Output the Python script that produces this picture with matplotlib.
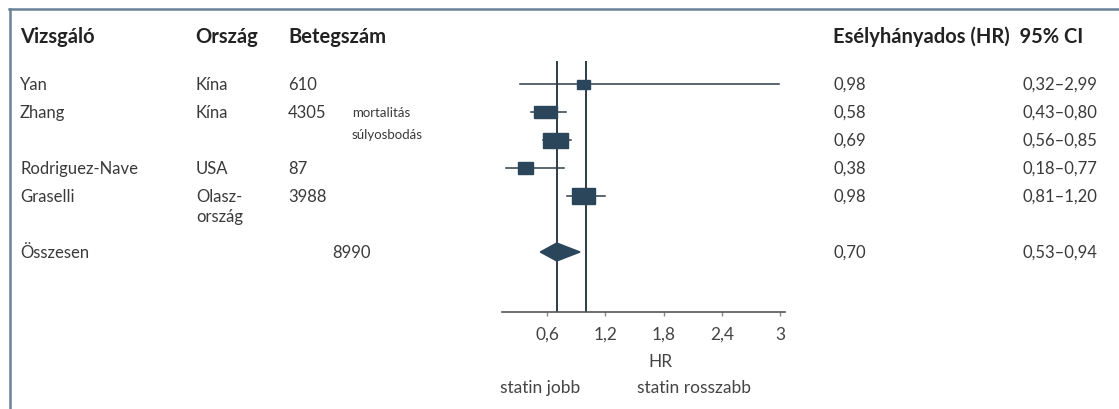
import matplotlib
matplotlib.use("Agg")
import matplotlib.pyplot as plt
import matplotlib.transforms as mtransforms
from matplotlib.patches import Rectangle, Polygon
from matplotlib.lines import Line2D

plt.rcParams['font.family'] = ['Lato', 'DejaVu Sans']

# table data
studies = ['Yan', 'Zhang', '', 'Rodriguez-Nave', 'Graselli', 'Összesen']
countries = ['Kína', 'Kína', '', 'USA', 'Olasz-\nország', '']
patients = ['610', '4305', '', '87', '3988', '8990']
outcomes = ['', 'mortalitás', 'súlyosbodás', '', '', '']
hr = [0.98, 0.58, 0.69, 0.38, 0.98, 0.70]
ci_low = [0.32, 0.43, 0.56, 0.18, 0.81, 0.53]
ci_high = [2.99, 0.80, 0.85, 0.77, 1.20, 0.94]
rows = [0, 1, 2, 3, 4, 6]
ref_lines = [0.70, 1.0]
xticks = [0.6, 1.2, 1.8, 2.4, 3]
xtick_labels = ['0,6', '1,2', '1,8', '2,4', '3']

# box sizes in pixels (w, h) for the study markers
box_px = [(13, 9), (23, 12), (25, 15), (15, 12), (23, 16)]

W, H = 1119, 410
text_col = '#3a3a3a'
head_col = '#222222'
mark_col = '#2b465b'
line_col = '#2f3c48'

fig = plt.figure(figsize=(W / 100, H / 100), dpi=100)
ax = fig.add_axes([502 / W, 1 - 313 / H, (785 - 502) / W, (313 - 62) / H])

x0, x1 = 0.136, 3.05
y_top, y_bot = (62 - 85) / 28, (313 - 85) / 28
ax.set_xlim(x0, x1)
ax.set_ylim(y_bot, y_top)
px_x = (x1 - x0) / (785 - 502)   # HR units per pixel
px_y = (y_bot - y_top) / (313 - 62)  # row units per pixel

for v in ref_lines:
    ax.axvline(v, color=line_col, lw=1.4, zorder=1)

# studies (all but pooled)
for i in range(len(rows) - 1):
    y = rows[i]
    ax.plot([ci_low[i], ci_high[i]], [y, y], color=line_col, lw=1.1, zorder=2)
    bw, bh = box_px[i][0] * px_x, box_px[i][1] * px_y
    ax.add_patch(Rectangle((hr[i] - bw / 2, y - bh / 2), bw, bh,
                           color=mark_col, zorder=3))

# pooled diamond
yp = rows[-1]
dh = 9 * px_y
ax.add_patch(Polygon([[ci_low[-1], yp], [hr[-1], yp - dh],
                      [ci_high[-1], yp], [hr[-1], yp + dh]],
                     closed=True, color=mark_col, zorder=3))

for s in ['top', 'right', 'left']:
    ax.spines[s].set_visible(False)
ax.spines['bottom'].set_color('#555555')
ax.spines['bottom'].set_linewidth(1.2)
ax.set_yticks([])
ax.set_xticks(xticks)
ax.set_xticklabels(xtick_labels)
ax.tick_params(axis='x', length=3, width=1, color='#888888', pad=7,
               labelsize=12.5, labelcolor='#444444')
ax.patch.set_alpha(0)

# row texts: x in figure pixels, y in row units
tr = mtransforms.blended_transform_factory(fig.transFigure, ax.transData)


def put(xpx, y, s, **kw):
    ax.text(xpx / W, y, s, transform=tr, va='center', clip_on=False, **kw)


for i, y in enumerate(rows):
    put(20, y, studies[i], fontsize=12, color=text_col)
    for k, part in enumerate(countries[i].split('\n')):
        put(196, y + k * 20 * px_y, part, fontsize=12, color=text_col)
    put(332 if studies[i] == 'Összesen' else 288, y, patients[i],
        fontsize=12, color=text_col)
    put(352, y - (6 * px_y if i == 2 else 0), outcomes[i],
        fontsize=9.5, color=text_col)
    put(833, y, f'{hr[i]:.2f}'.replace('.', ','), fontsize=12, color=text_col)
    ci = f'{ci_low[i]:.2f}–{ci_high[i]:.2f}'.replace('.', ',')
    put(1097, y, ci, fontsize=12, color=text_col, ha='right')

# header
hy = 1 - 37 / H
for xpx, s in [(20, 'Vizsgáló'), (195, 'Ország'), (288, 'Betegszám'),
               (833, 'Esélyhányados (HR)  95% CI')]:
    fig.text(xpx / W, hy, s, fontsize=14.5, fontweight='bold',
             color=head_col, va='center')

# axis captions
fig.text(660 / W, 1 - 362 / H, 'HR', fontsize=12.5, color='#444444',
         ha='center', va='center')
fig.text(540 / W, 1 - 388 / H, 'statin jobb', fontsize=12.5, color='#444444',
         ha='center', va='center')
fig.text(694 / W, 1 - 388 / H, 'statin rosszabb', fontsize=12.5,
         color='#444444', ha='center', va='center')

# frame lines (top and left)
frame_col = '#6b8296'
fig.add_artist(Line2D([9 / W, 1], [1 - 10 / H, 1 - 10 / H],
                      transform=fig.transFigure, color=frame_col, lw=1.8))
fig.add_artist(Line2D([10 / W, 10 / W], [0, 1 - 10 / H],
                      transform=fig.transFigure, color=frame_col, lw=1.8))

fig.savefig('out.png', dpi=100)
